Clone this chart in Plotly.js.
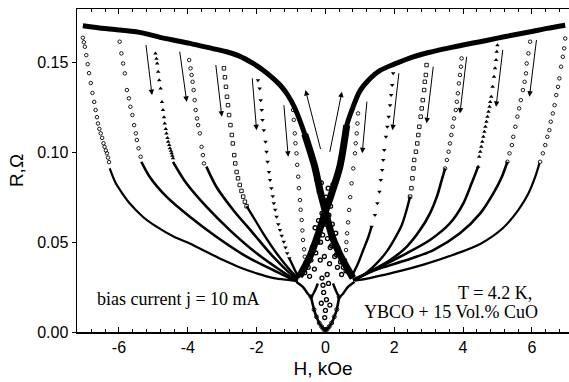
<!DOCTYPE html>
<html>
<head>
<meta charset="utf-8">
<script src="https://cdn.plot.ly/plotly-3.0.1.min.js"></script>
<style>html,body{margin:0;padding:0;background:#fff;}#chart{width:569px;height:382px;}</style>
</head>
<body>
<div id="chart"></div>
<script>
// ---- envelope (increasing |H| branches, thick bands) ----
var envLeftH = [-7.05,-6.4,-5.4,-4.7,-3.94,-3.3,-2.87,-2.5,-2.1,-1.8,-1.52,-1.3,-1.1,-0.9,-0.6,-0.31,-0.16,0,0.2,0.45,0.8];
var envLeftR = [0.1704,0.1688,0.1667,0.1635,0.1606,0.1578,0.1559,0.1535,0.1494,0.1455,0.1411,0.137,0.132,0.125,0.110,0.092,0.079,0.067,0.053,0.042,0.030];
var envRightH = [-0.75,-0.45,-0.2,0,0.18,0.42,0.62,0.8,1.0,1.3,1.59,2.0,2.55,3.0,3.53,4.0,4.5,5.0,5.46,6.0,6.44,6.97];
var envRightR = [0.031,0.042,0.055,0.067,0.077,0.092,0.115,0.125,0.134,0.141,0.1455,0.149,0.1531,0.1555,0.1578,0.1597,0.1615,0.1635,0.1652,0.1672,0.1689,0.1707];

// ---- descending curves, left side ----
var aSparseH = [-7.05,-7.02,-6.99,-6.95,-6.91,-6.87,-6.82,-6.77,-6.72,-6.68,-6.64,-6.61,-6.57,-6.53,-6.49,-6.45,-6.42,-6.38,-6.35,-6.32,-6.29];
var aSparseR = [0.1637,0.1612,0.1587,0.154,0.149,0.144,0.1385,0.133,0.128,0.1235,0.1195,0.116,0.113,0.1105,0.108,0.105,0.103,0.101,0.0994,0.097,0.0945];
var aDenseH = [-6.27,-6.1,-5.9,-5.69,-5.3,-4.91,-4.4,-3.94,-3.45,-2.97,-2.5,-2.0,-1.5,-1.03,-0.8];
var aDenseR = [0.091,0.083,0.077,0.0716,0.064,0.0586,0.053,0.0493,0.0445,0.040,0.036,0.0326,0.030,0.0289,0.0283];

var bSparseH = [-5.98,-5.93,-5.88,-5.83,-5.77,-5.71,-5.67,-5.61,-5.56,-5.51,-5.48,-5.43,-5.37];
var bSparseR = [0.1615,0.155,0.1494,0.1439,0.1346,0.130,0.1253,0.1207,0.1151,0.1105,0.1068,0.1022,0.0975];
var bDenseH = [-5.35,-5.11,-4.62,-3.94,-3.17,-2.29,-1.52,-1.03,-0.8];
var bDenseR = [0.0947,0.0864,0.0753,0.0641,0.053,0.0419,0.0345,0.0299,0.0285];

var cSparseH = [-4.94,-4.91,-4.89,-4.86,-4.83,-4.79,-4.75,-4.72,-4.69,-4.67,-4.64,-4.62,-4.59,-4.57,-4.54,-4.52,-4.49,-4.47,-4.45,-4.43];
var cSparseR = [0.155,0.152,0.1494,0.1448,0.140,0.1355,0.128,0.1235,0.1195,0.116,0.113,0.1105,0.108,0.1058,0.104,0.1022,0.1008,0.0994,0.098,0.0966];
var cDenseH = [-4.43,-4.04,-3.46,-2.78,-2.0,-1.32,-0.94,-0.8];
var cDenseR = [0.0947,0.0827,0.0697,0.0567,0.0438,0.0345,0.0299,0.029];

var dSparseH = [-3.96,-3.92,-3.89,-3.86,-3.83,-3.80,-3.77,-3.73,-3.70,-3.65,-3.60,-3.56,-3.53];
var dSparseR = [0.1513,0.1467,0.143,0.1392,0.1346,0.129,0.1235,0.1188,0.1151,0.1105,0.103,0.0984,0.0938];
var dDenseH = [-3.46,-3.17,-2.68,-2.10,-1.52,-1.03,-0.8];
var dDenseR = [0.092,0.0808,0.0679,0.0549,0.0419,0.0326,0.029];

var eSparseH = [-2.95,-2.92,-2.89,-2.86,-2.83,-2.80,-2.76,-2.72,-2.69,-2.65,-2.62,-2.58,-2.54,-2.49,-2.44,-2.39,-2.34,-2.29];
var eSparseR = [0.1467,0.1417,0.1364,0.1309,0.1262,0.1207,0.1151,0.1096,0.1049,0.0984,0.0938,0.089,0.0855,0.0818,0.0785,0.0753,0.0725,0.0700];
var eDenseH = [-2.29,-2.10,-1.81,-1.42,-1.03,-0.8];
var eDenseR = [0.0700,0.0641,0.0549,0.0438,0.0345,0.030];

var fSparseH = [-1.96,-1.91,-1.88,-1.85,-1.83,-1.79,-1.74,-1.71,-1.68,-1.64,-1.61,-1.57,-1.53,-1.50,-1.46,-1.42,-1.37,-1.32,-1.27,-1.21,-1.16,-1.11,-1.05];
var fSparseR = [0.140,0.1355,0.129,0.1235,0.118,0.1123,0.1058,0.1003,0.0947,0.089,0.0845,0.080,0.0755,0.0716,0.068,0.0641,0.060,0.0567,0.0535,0.0502,0.047,0.0438,0.041];
var fDenseH = [-1.05,-0.95,-0.85,-0.75];
var fDenseR = [0.041,0.037,0.033,0.030];

var gSparseH = [-0.94,-0.92,-0.89,-0.87,-0.84,-0.82,-0.79,-0.77,-0.74,-0.72,-0.69,-0.67,-0.65,-0.62,-0.60,-0.57,-0.55];
var gSparseR = [0.1235,0.118,0.1105,0.105,0.0994,0.093,0.0864,0.080,0.0734,0.068,0.0623,0.0565,0.0512,0.046,0.0419,0.039,0.0363];

// ---- descending curves, right side ----
var gpSparseH = [0.95,0.93,0.91,0.88,0.86,0.81,0.76,0.72,0.69,0.66,0.63,0.61,0.60,0.57];
var gpSparseR = [0.1216,0.116,0.1105,0.105,0.0994,0.091,0.0827,0.075,0.0679,0.061,0.0549,0.050,0.0456,0.040];

var fpSparseH = [1.97,1.94,1.91,1.88,1.84,1.80,1.76,1.71,1.68,1.65,1.61,1.57,1.51,1.44,1.34];
var fpSparseR = [0.1439,0.1374,0.1318,0.1262,0.1198,0.1142,0.1086,0.1012,0.0957,0.0901,0.0845,0.078,0.0716,0.0651,0.0586];
var fpDenseH = [1.34,1.25,1.10,0.95,0.81];
var fpDenseR = [0.0586,0.053,0.0456,0.0382,0.0326];

var epSparseH = [2.94,2.92,2.89,2.87,2.83,2.80,2.77,2.73,2.70,2.67,2.63,2.58,2.56,2.53,2.50,2.46];
var epSparseR = [0.1485,0.143,0.1392,0.1346,0.129,0.1244,0.1198,0.1142,0.1096,0.1049,0.1003,0.0957,0.091,0.0855,0.080,0.0753];
var epDenseH = [2.46,2.36,2.22,2.02,1.78,1.49,1.10,0.81];
var epDenseR = [0.0753,0.0679,0.0595,0.0521,0.0447,0.0382,0.0317,0.029];

var dpSparseH = [3.96,3.94,3.91,3.88,3.85,3.82,3.79,3.74,3.70,3.66,3.62,3.58,3.53,3.48];
var dpSparseR = [0.1522,0.1476,0.143,0.1383,0.1328,0.1281,0.1235,0.1188,0.1142,0.1096,0.1049,0.1003,0.0957,0.091];
var dpDenseH = [3.48,3.38,3.24,3.04,2.75,2.36,1.88,1.29,0.85];
var dpDenseR = [0.091,0.0845,0.0753,0.066,0.0567,0.0474,0.040,0.0335,0.029];

var cpSparseH = [5.0,4.98,4.96,4.93,4.90,4.86,4.82,4.79,4.77,4.74,4.71,4.68,4.65,4.62,4.59,4.56,4.53,4.50,4.47,4.44];
var cpSparseR = [0.1596,0.1559,0.1513,0.1467,0.142,0.1364,0.1309,0.128,0.1253,0.1225,0.1198,0.117,0.1142,0.1114,0.1086,0.1058,0.1031,0.1003,0.0975,0.092];
var cpDenseH = [4.44,4.25,4.01,3.62,3.04,2.36,1.59,1.0,0.8];
var cpDenseR = [0.092,0.0827,0.0716,0.0605,0.0512,0.0438,0.0363,0.0308,0.029];

var bpSparseH = [5.95,5.90,5.85,5.83,5.79,5.74,5.68,5.63,5.58,5.52,5.46,5.42,5.35,5.29];
var bpSparseR = [0.1615,0.155,0.1494,0.1439,0.1392,0.1346,0.129,0.1244,0.1198,0.1142,0.1086,0.104,0.0994,0.0947];
var bpDenseH = [5.29,5.13,4.88,4.50,3.91,3.14,2.36,1.59,1.0,0.8];
var bpDenseR = [0.0947,0.0864,0.0771,0.066,0.0549,0.0456,0.040,0.0354,0.0308,0.029];

var apSparseH = [6.97,6.94,6.90,6.85,6.80,6.76,6.71,6.66,6.61,6.55,6.51,6.45,6.39,6.32,6.24];
var apSparseR = [0.1633,0.1578,0.1531,0.1476,0.1411,0.1364,0.1318,0.1262,0.1216,0.117,0.1123,0.1086,0.104,0.0994,0.0947];
var apDenseH = [6.22,6.10,5.90,5.61,5.17,4.50,3.72,2.85,1.97,1.29,0.85];
var apDenseR = [0.0938,0.0864,0.0771,0.068,0.058,0.049,0.043,0.0375,0.033,0.030,0.0285];

// ---- central low-field structure ----
var vH = [-0.42,-0.33,-0.26,-0.18,-0.11,-0.05,0,0.05,0.11,0.18,0.26,0.33,0.40];
var vR = [0.0196,0.0125,0.0085,0.005,0.003,0.0015,0.001,0.0015,0.003,0.005,0.0085,0.0125,0.0196];
var dipLH = [-0.85,-0.65,-0.5,-0.42,-0.33,-0.22];
var dipLR = [0.028,0.025,0.021,0.0196,0.022,0.027];
var dipRH = [0.22,0.33,0.40,0.5,0.65,0.85];
var dipRR = [0.027,0.022,0.0196,0.021,0.025,0.028];
var cenH = [-0.25,-0.18,-0.12,-0.05,0.02,0.08,0.15,0.22,-0.3,-0.2,-0.1,0,0.1,0.2,0.3,-0.35,-0.22,-0.08,0.06,0.18,0.32,-0.15,-0.03,0.12,-0.1,0.05,-0.05,0.03,0.0,-0.02,
            -0.5,-0.42,-0.38,-0.28,-0.14,0.14,0.27,0.36,0.44,0.52,-0.6,-0.46,0.47,0.6,-0.32,0.35,-0.07,0.09,-0.12,0.13];
var cenR = [0.085,0.078,0.083,0.072,0.075,0.08,0.07,0.082,0.058,0.062,0.066,0.06,0.065,0.06,0.055,0.045,0.05,0.054,0.052,0.048,0.043,0.04,0.042,0.038,0.03,0.032,0.022,0.018,0.012,0.008,
            0.036,0.040,0.047,0.044,0.050,0.047,0.042,0.047,0.039,0.036,0.033,0.031,0.032,0.034,0.035,0.036,0.026,0.027,0.016,0.015];

// ---- arrows ----
var arrowHeadH = [-5.04,-4.03,-3.01,-2.0,-1.08,-0.58,0.48,1.07,1.95,2.94,3.91,4.96,5.93];
var arrowHeadR = [0.1318,0.128,0.1198,0.1123,0.0975,0.1346,0.1337,0.0994,0.1123,0.1161,0.1216,0.1253,0.1309];
var arrowTailH = [-5.22,-4.24,-3.19,-2.13,-1.21,-0.13,0.12,1.21,2.14,3.14,4.11,5.16,6.14];
var arrowTailR = [0.1605,0.1568,0.1494,0.142,0.127,0.101,0.0994,0.129,0.1448,0.1485,0.154,0.1578,0.1633];

var xTickVals = [-6,-4,-2,0,2,4,6];
var xTickText = ['-6','-4','-2','0','2','4','6'];
var yTickVals = [0,0.05,0.10,0.15];
var yTickText = ['0.00','0.05','0.10','0.15'];

var traces = [];
function lineTrace(h, r, w) {
  return {x:h, y:r, type:'scatter', mode:'lines', line:{color:'black', width:w, shape:'spline', smoothing:0.8}, hoverinfo:'skip', showlegend:false};
}
function markTrace(h, r, sym, sz, lw) {
  return {x:h, y:r, type:'scatter', mode:'markers', marker:{symbol:sym, size:sz||3.5, color:'black', line:{color:'black', width:(lw===undefined?0.9:lw)}}, hoverinfo:'skip', showlegend:false};
}

traces.push(lineTrace(envLeftH, envLeftR, 5));
traces.push(lineTrace(envRightH, envRightR, 5));
// the noisier low-field part of both branches is drawn as a wider band
traces.push(lineTrace(envLeftH.slice(14), envLeftR.slice(14), 7));
traces.push(lineTrace(envRightH.slice(0, 7), envRightR.slice(0, 7), 7));

var curves = [
  [aSparseH,aSparseR,aDenseH,aDenseR,'circle-open',2.2],
  [bSparseH,bSparseR,bDenseH,bDenseR,'circle-open',2.6],
  [cSparseH,cSparseR,cDenseH,cDenseR,'triangle-up',2.6],
  [dSparseH,dSparseR,dDenseH,dDenseR,'circle-open',2.6],
  [eSparseH,eSparseR,eDenseH,eDenseR,'square-open',2.4],
  [fSparseH,fSparseR,fDenseH,fDenseR,'triangle-down',2.4],
  [fpSparseH,fpSparseR,fpDenseH,fpDenseR,'triangle-down',2.4],
  [epSparseH,epSparseR,epDenseH,epDenseR,'square-open',2.4],
  [dpSparseH,dpSparseR,dpDenseH,dpDenseR,'circle-open',2.6],
  [cpSparseH,cpSparseR,cpDenseH,cpDenseR,'triangle-up',2.6],
  [bpSparseH,bpSparseR,bpDenseH,bpDenseR,'circle-open',2.6],
  [apSparseH,apSparseR,apDenseH,apDenseR,'circle-open',2.2]
];
curves.forEach(function(c){
  var tri = c[4].indexOf('triangle') === 0;
  traces.push(markTrace(c[0], c[1], c[4], tri ? 4 : 3.5, tri ? 0 : 0.9));
  traces.push(lineTrace(c[2], c[3], c[5]));
});
traces.push(markTrace(gSparseH, gSparseR, 'circle-open'));
traces.push(markTrace(gpSparseH, gpSparseR, 'circle-open'));
traces.push(lineTrace(vH, vR, 2.6));
traces.push(markTrace(vH, vR, 'circle-open', 4));
traces.push(lineTrace(dipLH, dipLR, 2.4));
traces.push(lineTrace(dipRH, dipRR, 2.4));
traces.push(markTrace(cenH, cenR, 'circle-open', 4, 1.3));

var annotations = [];
for (var i = 0; i < arrowHeadH.length; i++) {
  annotations.push({x:arrowHeadH[i], y:arrowHeadR[i], ax:arrowTailH[i], ay:arrowTailR[i],
    xref:'x', yref:'y', axref:'x', ayref:'y', text:'', showarrow:true,
    arrowhead:2, arrowsize:1.1, arrowwidth:1, arrowcolor:'black', standoff:0, startstandoff:0});
}
var serif = {family:'"Liberation Serif", "Times New Roman", serif', size:18, color:'black'};
annotations.push({xref:'paper', yref:'paper', x:0.036, y:0.102, xanchor:'left', yanchor:'middle', text:'bias current j = 10 mA', showarrow:false, font:serif});
annotations.push({xref:'paper', yref:'paper', x:0.770, y:0.121, xanchor:'left', yanchor:'middle', text:'T = 4.2 K,', showarrow:false, font:serif});
annotations.push({xref:'paper', yref:'paper', x:0.580, y:0.062, xanchor:'left', yanchor:'middle', text:'YBCO + 15 Vol.% CuO', showarrow:false, font:serif});

var sans = '"Liberation Sans", Arial, sans-serif';
var layout = {
  width:569, height:382,
  margin:{l:77, r:0, t:9, b:50, pad:0},
  paper_bgcolor:'white', plot_bgcolor:'white',
  showlegend:false,
  xaxis:{range:[-7.22,7.08], tickmode:'array', tickvals:xTickVals, ticktext:xTickText,
    ticks:'inside', ticklen:5, tickwidth:1, tickcolor:'black',
    minor:{tickmode:'linear', tick0:0, dtick:0.4, ticks:'inside', ticklen:3, tickwidth:1, tickcolor:'black'},
    showline:true, linecolor:'black', linewidth:1.5, mirror:'ticks',
    showgrid:false, zeroline:false,
    tickfont:{family:sans, size:16, color:'black'},
    title:{text:'H, kOe', font:{family:sans, size:19, color:'black'}, standoff:7}},
  yaxis:{range:[0,0.1797], tickmode:'array', tickvals:yTickVals, ticktext:yTickText,
    ticks:'outside', ticklen:4, tickwidth:1, tickcolor:'black',
    showline:true, linecolor:'black', linewidth:1.5, mirror:'ticks',
    showgrid:false, zeroline:false,
    tickfont:{family:sans, size:16, color:'black'},
    title:{text:'R,Ω', font:{family:sans, size:19, color:'black'}, standoff:8}},
  annotations:annotations
};
Plotly.newPlot('chart', traces, layout, {staticPlot:true, displayModeBar:false});
</script>
</body>
</html>
